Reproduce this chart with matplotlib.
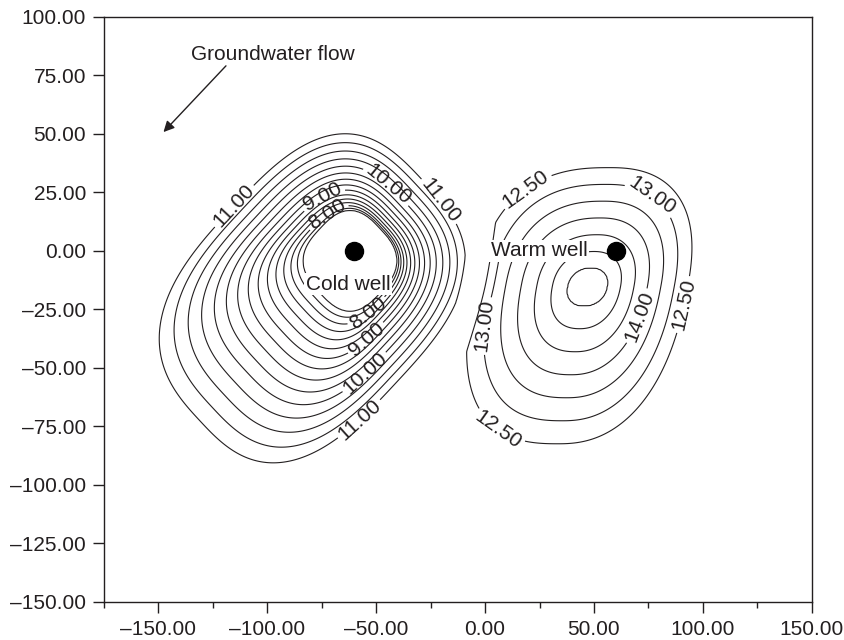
# -*- coding: utf-8 -*-
import numpy as np
import matplotlib
matplotlib.use('Agg')
from matplotlib import pyplot as plt
from matplotlib.ticker import MultipleLocator, FuncFormatter

plt.rcParams['font.family'] = ['Liberation Sans', 'DejaVu Sans']
INK = '#231f20'

# wells (m)
cold_well = [-60.0, 0.0]
warm_well = [60.0, 0.0]

# isotherms (deg C)
background_temp = 12.0
cold_levels = [7.5, 7.75, 8.0, 8.25, 8.5, 8.75, 9.0, 9.25, 9.5, 9.75,
               10.0, 10.25, 10.5, 10.75, 11.0]
warm_levels = [12.5, 13.0, 13.5, 14.0, 14.5, 15.0, 15.5]

# plume envelopes: centre and half extent of the innermost
# and outermost isotherm per side (+u, -u, +v, -v), spacing growth, squareness
cold_center_in = [-62.0, -4.3]
cold_center_out = [-78.5, -20.5]
cold_inner = [19.5, 19.5, 19.5, 19.5]
cold_outer = [71.0, 74.0, 54.0, 52.0]
cold_growth = [0.6, 0.3, 0.5, 0.5]
cold_power_in = [2.8, 2.8]
cold_power_out = [3.0, 2.8]
cold_rotation = 45.0
cold_shear = 0.0

warm_center_in = [47.0, -15.5]
warm_center_out = [47.0, -15.5]
warm_inner = [9.0, 9.0, 8.0, 8.0]
warm_outer = [46.0, 52.0, 51.0, 67.0]
warm_growth = [1.0, 1.0, 1.0, 1.0]
warm_power_in = [2.2, 2.2]
warm_power_out = [2.4, 2.6]
warm_rotation = 0.0
warm_shear = 0.2

# labelled isotherms and where their labels sit
cold_label_spots = {8.0: [(-76, 20), (-48.2, -32.9)],
                    9.0: [(-77, 27), (-52.8, -39.3)],
                    10.0: [(-43.6, 29.3), (-57.4, -50)],
                    11.0: [(-114, 18), (-22, 20.4), (-60.4, -69.3)]}
warm_label_spots = {12.5: [(19, 26), (91, -23), (8, -74)],
                    13.0: [(70, 14.6), (-1, -32)],
                    14.0: [(67.5, -27)]}


def shell_index(X, Y, c_in, c_out, inner, outer, growth, p_in, p_out, rotation, shear):
    # 0 on innermost isotherm, 1 on outermost one
    a = np.radians(rotation)
    steps = np.linspace(0.0, 1.4, 141)
    s = np.full(X.shape, steps[-1])
    done = np.zeros(X.shape, dtype=bool)
    r_prev = None
    for k, t in enumerate(steps):
        cx = c_in[0] + (c_out[0] - c_in[0]) * t
        cy = c_in[1] + (c_out[1] - c_in[1]) * t
        dx = X - cx
        dy = Y - cy
        u = np.cos(a) * dx + np.sin(a) * dy
        v = -np.sin(a) * dx + np.cos(a) * dy
        u = u - shear * v
        pos_u = u >= 0
        e = [e0 + (e1 - e0) * (g * t + (1 - g) * t * t) for e0, e1, g in zip(inner, outer, growth)]
        eu = np.where(pos_u, e[0], e[1])
        ev = np.where(v >= 0, e[2], e[3])
        p = np.where(pos_u, p_in[0] + (p_out[0] - p_in[0]) * t, p_in[1] + (p_out[1] - p_in[1]) * t)
        r = ((np.abs(u) / eu) ** p + (np.abs(v) / ev) ** p) ** (1.0 / p)
        if k == 0:
            hit = r <= 1.0
            s[hit] = r[hit] - 1.0
        else:
            hit = (~done) & (r <= 1.0)
            frac = (r_prev[hit] - 1.0) / (r_prev[hit] - r[hit])
            s[hit] = steps[k - 1] + frac * (t - steps[k - 1])
        done |= hit
        r_prev = r
    return s


x = np.arange(-175, 150.01, 0.5)
y = np.arange(-150, 100.01, 0.5)
X, Y = np.meshgrid(x, y)

s_cold = shell_index(X, Y, cold_center_in, cold_center_out, cold_inner, cold_outer, cold_growth,
                     cold_power_in, cold_power_out, cold_rotation, cold_shear)
s_warm = shell_index(X, Y, warm_center_in, warm_center_out, warm_inner, warm_outer, warm_growth,
                     warm_power_in, warm_power_out, warm_rotation, warm_shear)
T_cold = cold_levels[0] + (cold_levels[-1] - cold_levels[0]) * s_cold
T_warm = warm_levels[-1] - (warm_levels[-1] - warm_levels[0]) * s_warm
T = background_temp + np.minimum(T_cold - background_temp, 0) + np.maximum(T_warm - background_temp, 0)

fig = plt.figure(figsize=(8.45, 6.4), dpi=100)
ax = fig.add_axes([0.1231, 0.0598, 0.8375, 0.9141])

lw = 0.8
spots = dict(cold_label_spots)
spots.update(warm_label_spots)
plain = [v for v in cold_levels + warm_levels if v not in spots]
ax.contour(X, Y, T, levels=plain, colors=INK, linewidths=lw)
for lvl, pos in spots.items():
    cs = ax.contour(X, Y, T, levels=[lvl], colors=INK, linewidths=lw)
    cs.clabel(manual=pos, fmt='%.2f', fontsize=15, inline=True, inline_spacing=3, colors=INK)

ax.plot(cold_well[0], cold_well[1], 'o', color='k', ms=13, zorder=5)
ax.plot(warm_well[0], warm_well[1], 'o', color='k', ms=13, zorder=5)
box = dict(facecolor='white', edgecolor='none', pad=1.0)
ax.text(-63, -14.4, 'Cold well', ha='center', va='center', fontsize=15, color=INK, bbox=box, zorder=4)
ax.text(24.8, 0, 'Warm well', ha='center', va='center', fontsize=15, color=INK, bbox=box, zorder=4)

ax.text(-97.3, 83.8, 'Groundwater flow', ha='center', va='center', fontsize=15, color=INK)
ax.annotate('', xy=(-147.7, 50.7), xytext=(-119, 79),
            arrowprops=dict(arrowstyle='-|>', color=INK, lw=1.0, mutation_scale=16,
                            shrinkA=0, shrinkB=0))

ax.set_xlim(-175, 150)
ax.set_ylim(-150, 100)
ax.xaxis.set_major_locator(MultipleLocator(50))
ax.xaxis.set_minor_locator(MultipleLocator(25))
ax.yaxis.set_major_locator(MultipleLocator(25))
fmt = FuncFormatter(lambda v, pos: ('%.2f' % v).replace('-', '\u2013'))
ax.xaxis.set_major_formatter(fmt)
ax.yaxis.set_major_formatter(fmt)
ax.tick_params(which='major', direction='out', length=8, width=1.0, color=INK,
               labelsize=15, labelcolor=INK, pad=5)
ax.tick_params(which='minor', direction='out', length=4.5, width=1.0, color=INK)
for sp in ax.spines.values():
    sp.set_linewidth(1.0)
    sp.set_color(INK)

fig.savefig('out.png', dpi=100)
